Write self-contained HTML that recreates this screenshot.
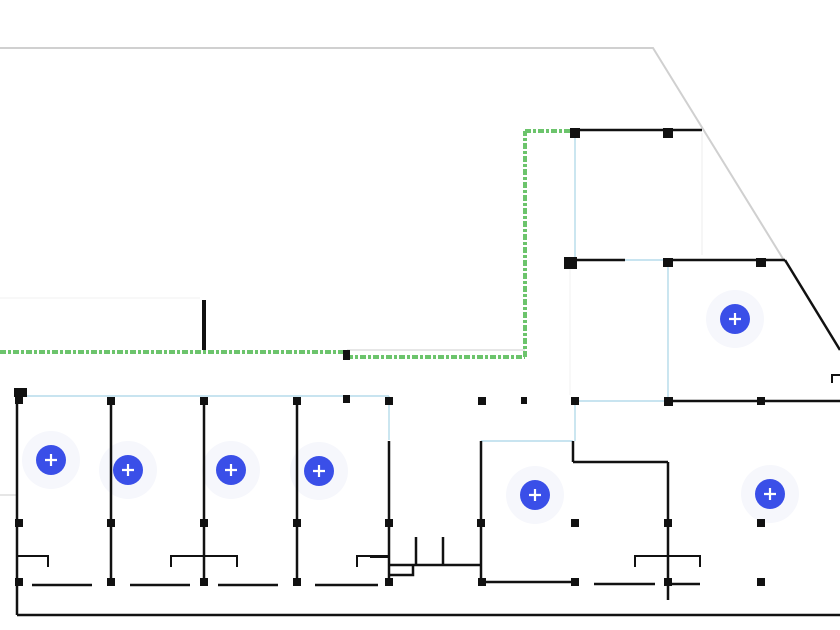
<!DOCTYPE html>
<html><head><meta charset="utf-8"><style>
html,body{margin:0;padding:0;background:#fff;width:840px;height:630px;overflow:hidden}
svg{display:block}
</style></head><body>
<svg width="840" height="630" viewBox="0 0 840 630" xmlns="http://www.w3.org/2000/svg">
<!-- halos -->
<g fill="#f6f7fc">
<circle cx="51" cy="460" r="29"/>
<circle cx="128" cy="470" r="29"/>
<circle cx="231" cy="470" r="29"/>
<circle cx="319" cy="471" r="29"/>
<circle cx="535" cy="495" r="29"/>
<circle cx="735" cy="319" r="29"/>
<circle cx="770" cy="494" r="29"/>
</g>
<g fill="none" stroke-linecap="butt">
<polyline points="0,48 653,48 785,262" stroke="#d0d0d0" stroke-width="2"/>
<line x1="0" y1="298" x2="200" y2="298" stroke="#f2f2f2" stroke-width="1"/>
<line x1="0" y1="495" x2="17" y2="495" stroke="#ccc" stroke-width="1"/>
<g stroke="#6cc46c" stroke-width="4" stroke-dasharray="6,2,3,2">
<line x1="0" y1="352" x2="347" y2="352"/>
<line x1="347" y1="357" x2="525" y2="357"/>
<line x1="525" y1="357" x2="525" y2="131"/>
<line x1="525" y1="131" x2="573" y2="131"/>
</g>
<line x1="347" y1="350" x2="525" y2="350" stroke="#ccc" stroke-width="1"/>
<g stroke="#a8d4e6" stroke-width="1.2">
<line x1="575" y1="133" x2="575" y2="260"/>
<line x1="625" y1="260" x2="665" y2="260"/>
<line x1="668" y1="262" x2="668" y2="400"/>
<line x1="575" y1="401" x2="668" y2="401"/>
<line x1="575" y1="401" x2="575" y2="441"/>
<line x1="481" y1="441" x2="573" y2="441"/>
<line x1="17" y1="396" x2="389" y2="396"/>
<line x1="389" y1="396" x2="389" y2="440"/>
</g>
<line x1="702" y1="133" x2="702" y2="255" stroke="#eee" stroke-width="1"/>
<line x1="570" y1="265" x2="570" y2="395" stroke="#f0f0f0" stroke-width="1"/>
<g stroke="#111" stroke-width="2.5">
<line x1="573" y1="130" x2="702" y2="130"/>
<line x1="567" y1="260" x2="625" y2="260"/>
<line x1="665" y1="260" x2="785" y2="260"/>
<line x1="785" y1="260" x2="840" y2="350"/>
<line x1="668" y1="401" x2="840" y2="401"/>
<line x1="17" y1="395" x2="17" y2="615"/>
<line x1="17" y1="615" x2="840" y2="615"/>
<line x1="111" y1="401" x2="111" y2="582"/>
<line x1="204" y1="401" x2="204" y2="582"/>
<line x1="297" y1="401" x2="297" y2="582"/>
<line x1="389" y1="441" x2="389" y2="582"/>
<line x1="481" y1="441" x2="481" y2="582"/>
<line x1="573" y1="441" x2="573" y2="462"/>
<line x1="573" y1="462" x2="668" y2="462"/>
<line x1="668" y1="462" x2="668" y2="600"/>
<line x1="481" y1="582" x2="575" y2="582"/>
<line x1="594" y1="584" x2="655" y2="584"/>
<line x1="668" y1="584" x2="700" y2="584"/>
<line x1="32" y1="585" x2="92" y2="585"/>
<line x1="130" y1="585" x2="190" y2="585"/>
<line x1="218" y1="585" x2="278" y2="585"/>
<line x1="315" y1="585" x2="378" y2="585"/>
<line x1="416" y1="537" x2="416" y2="565"/>
<line x1="443" y1="537" x2="443" y2="565"/>
<line x1="389" y1="565" x2="481" y2="565"/>
<polyline points="389,575 413,575 413,565"/>
<line x1="370" y1="557" x2="389" y2="557" stroke-width="2"/>
<polyline points="17,556 48,556 48,567" stroke-width="2"/>
<polyline points="171,567 171,556 237,556 237,567" stroke-width="2"/>
<polyline points="357,567 357,556 389,556" stroke-width="2"/>
<polyline points="635,567 635,556 700,556 700,567" stroke-width="2"/>
<polyline points="832,383 832,375 840,375" stroke-width="2"/>
</g>
<line x1="204" y1="300" x2="204" y2="350" stroke="#111" stroke-width="4"/>
</g>
<g fill="#111">
<rect x="570" y="128" width="10" height="10"/>
<rect x="663" y="128" width="10" height="10"/>
<rect x="564" y="257" width="13" height="12"/>
<rect x="663" y="258" width="10" height="9"/>
<rect x="756" y="258" width="10" height="9"/>
<rect x="343" y="350" width="7" height="10"/>
<rect x="14" y="388" width="13" height="9"/>
<rect x="15" y="396" width="8" height="8"/>
<rect x="107" y="397" width="8" height="8"/>
<rect x="200" y="397" width="8" height="8"/>
<rect x="293" y="397" width="8" height="8"/>
<rect x="343" y="395" width="7" height="8"/>
<rect x="385" y="397" width="8" height="8"/>
<rect x="478" y="397" width="8" height="8"/>
<rect x="521" y="397" width="6" height="7"/>
<rect x="571" y="397" width="8" height="8"/>
<rect x="664" y="397" width="9" height="9"/>
<rect x="757" y="397" width="8" height="8"/>
<rect x="15" y="519" width="8" height="8"/>
<rect x="107" y="519" width="8" height="8"/>
<rect x="200" y="519" width="8" height="8"/>
<rect x="293" y="519" width="8" height="8"/>
<rect x="385" y="519" width="8" height="8"/>
<rect x="477" y="519" width="8" height="8"/>
<rect x="571" y="519" width="8" height="8"/>
<rect x="664" y="519" width="8" height="8"/>
<rect x="757" y="519" width="8" height="8"/>
<rect x="15" y="578" width="8" height="8"/>
<rect x="107" y="578" width="8" height="8"/>
<rect x="200" y="578" width="8" height="8"/>
<rect x="293" y="578" width="8" height="8"/>
<rect x="385" y="578" width="8" height="8"/>
<rect x="478" y="578" width="8" height="8"/>
<rect x="571" y="578" width="8" height="8"/>
<rect x="664" y="578" width="8" height="8"/>
<rect x="757" y="578" width="8" height="8"/>
</g>
<g>
<g transform="translate(51,460)"><circle r="15" fill="#3a4fe8"/><path d="M-6,0H6M0,-6V6" stroke="#fff" stroke-width="2.2"/></g>
<g transform="translate(128,470)"><circle r="15" fill="#3a4fe8"/><path d="M-6,0H6M0,-6V6" stroke="#fff" stroke-width="2.2"/></g>
<g transform="translate(231,470)"><circle r="15" fill="#3a4fe8"/><path d="M-6,0H6M0,-6V6" stroke="#fff" stroke-width="2.2"/></g>
<g transform="translate(319,471)"><circle r="15" fill="#3a4fe8"/><path d="M-6,0H6M0,-6V6" stroke="#fff" stroke-width="2.2"/></g>
<g transform="translate(535,495)"><circle r="15" fill="#3a4fe8"/><path d="M-6,0H6M0,-6V6" stroke="#fff" stroke-width="2.2"/></g>
<g transform="translate(735,319)"><circle r="15" fill="#3a4fe8"/><path d="M-6,0H6M0,-6V6" stroke="#fff" stroke-width="2.2"/></g>
<g transform="translate(770,494)"><circle r="15" fill="#3a4fe8"/><path d="M-6,0H6M0,-6V6" stroke="#fff" stroke-width="2.2"/></g>
</g>
</svg>
</body></html>
